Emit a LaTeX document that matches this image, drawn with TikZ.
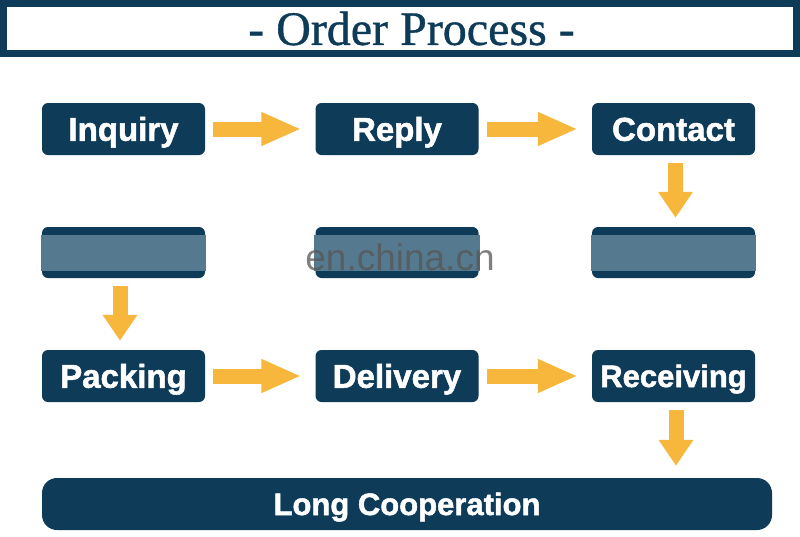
\documentclass[tikz,border=0pt]{standalone}
\usepackage{fontspec}
\setmainfont{Liberation Serif}
\newfontfamily\titlefont{Liberation Serif}[FakeBold=0.8]
\newfontfamily\boxfont{Liberation Sans}[BoldFont={Liberation Sans Bold}, BoldFeatures={FakeBold=1.6}]
\usetikzlibrary{arrows.meta}
\definecolor{navy}{HTML}{0E3B58}
\definecolor{blurmid}{HTML}{557A90}
\definecolor{arrowyel}{HTML}{F6B73C}
\definecolor{wmgray}{HTML}{555555}
\tikzset{
  procbox/.style={rounded corners=6pt, fill=navy, minimum width=163pt, minimum height=52pt,
    inner sep=0pt, text=white, font=\boxfont\bfseries\fontsize{33}{38}\selectfont,
    text height=23.5pt, text depth=0pt},
  blurbox/.style={rounded corners=6pt, fill=navy, minimum width=163pt, minimum height=51pt, inner sep=0pt},
  harrow/.style={draw=arrowyel, line width=15pt, -{Triangle[length=40pt,width=31pt]},
    shorten <=8pt, shorten >=14pt},
  varrow/.style={draw=arrowyel, line width=15pt, -{Triangle[length=26pt,width=33pt]},
    shorten <=8pt, shorten >=9pt},
}
\begin{document}
\begin{tikzpicture}[x=1pt,y=-1pt]
\useasboundingbox (0,0) rectangle (800,536);
% title frame
\node[draw=navy, line width=7pt, fill=white, minimum width=793pt, minimum height=50pt, inner sep=0pt] (frame) at (400,28.5) {};
\node[text=navy, font=\titlefont\fontsize{48}{52}\selectfont, inner sep=0pt] (title) at (411.5,28.5) {- Order Process -};
% row 1
\node[procbox] (inq) at (123.5,129) {Inquiry};
\node[procbox] (rep) at (397,129) {Reply};
\node[procbox] (con) at (673.5,129) {Contact};
% row 2 (blurred)
\node[blurbox] (b1) at (123.5,252.5) {};
\node[blurbox] (b2) at (397,252.5) {};
\node[blurbox] (b3) at (673.5,252.5) {};
\foreach \n in {b1,b2,b3}{
  \fill[blurmid] ([xshift=-1pt,yshift=-8pt]\n.north west) rectangle ([xshift=1pt,yshift=7pt]\n.south east);
}
\node[text=wmgray, opacity=0.75, font=\boxfont\fontsize{37}{40}\selectfont, inner sep=0pt] (wm) at (400,257) {en.china.cn};
% row 3
\node[procbox] (pac) at (123.5,376) {Packing};
\node[procbox] (del) at (397,376) {Delivery};
\node[procbox, font=\boxfont\bfseries\fontsize{31}{36}\selectfont, text height=22pt] (rec) at (673.5,376) {Receiving};
% long bar
\node[procbox, rounded corners=15pt, minimum width=730pt, minimum height=52pt,
  font=\boxfont\bfseries\fontsize{31}{36}\selectfont, text height=22pt] (long) at (407,504) {Long Cooperation};
% arrows
\draw[harrow] (inq.east) -- (rep.west);
\draw[harrow] (rep.east) -- (con.west);
\draw[varrow] ([xshift=2pt]con.south) -- ([xshift=2pt]b3.north);
\draw[varrow] ([xshift=-3.5pt]b1.south) -- ([xshift=-3.5pt]pac.north);
\draw[harrow] (pac.east) -- (del.west);
\draw[harrow] (del.east) -- (rec.west);
\draw[varrow, shorten >=12pt] ([xshift=2.5pt]rec.south) -- ([xshift=2.5pt]rec.south |- long.north);
\end{tikzpicture}
\end{document}
